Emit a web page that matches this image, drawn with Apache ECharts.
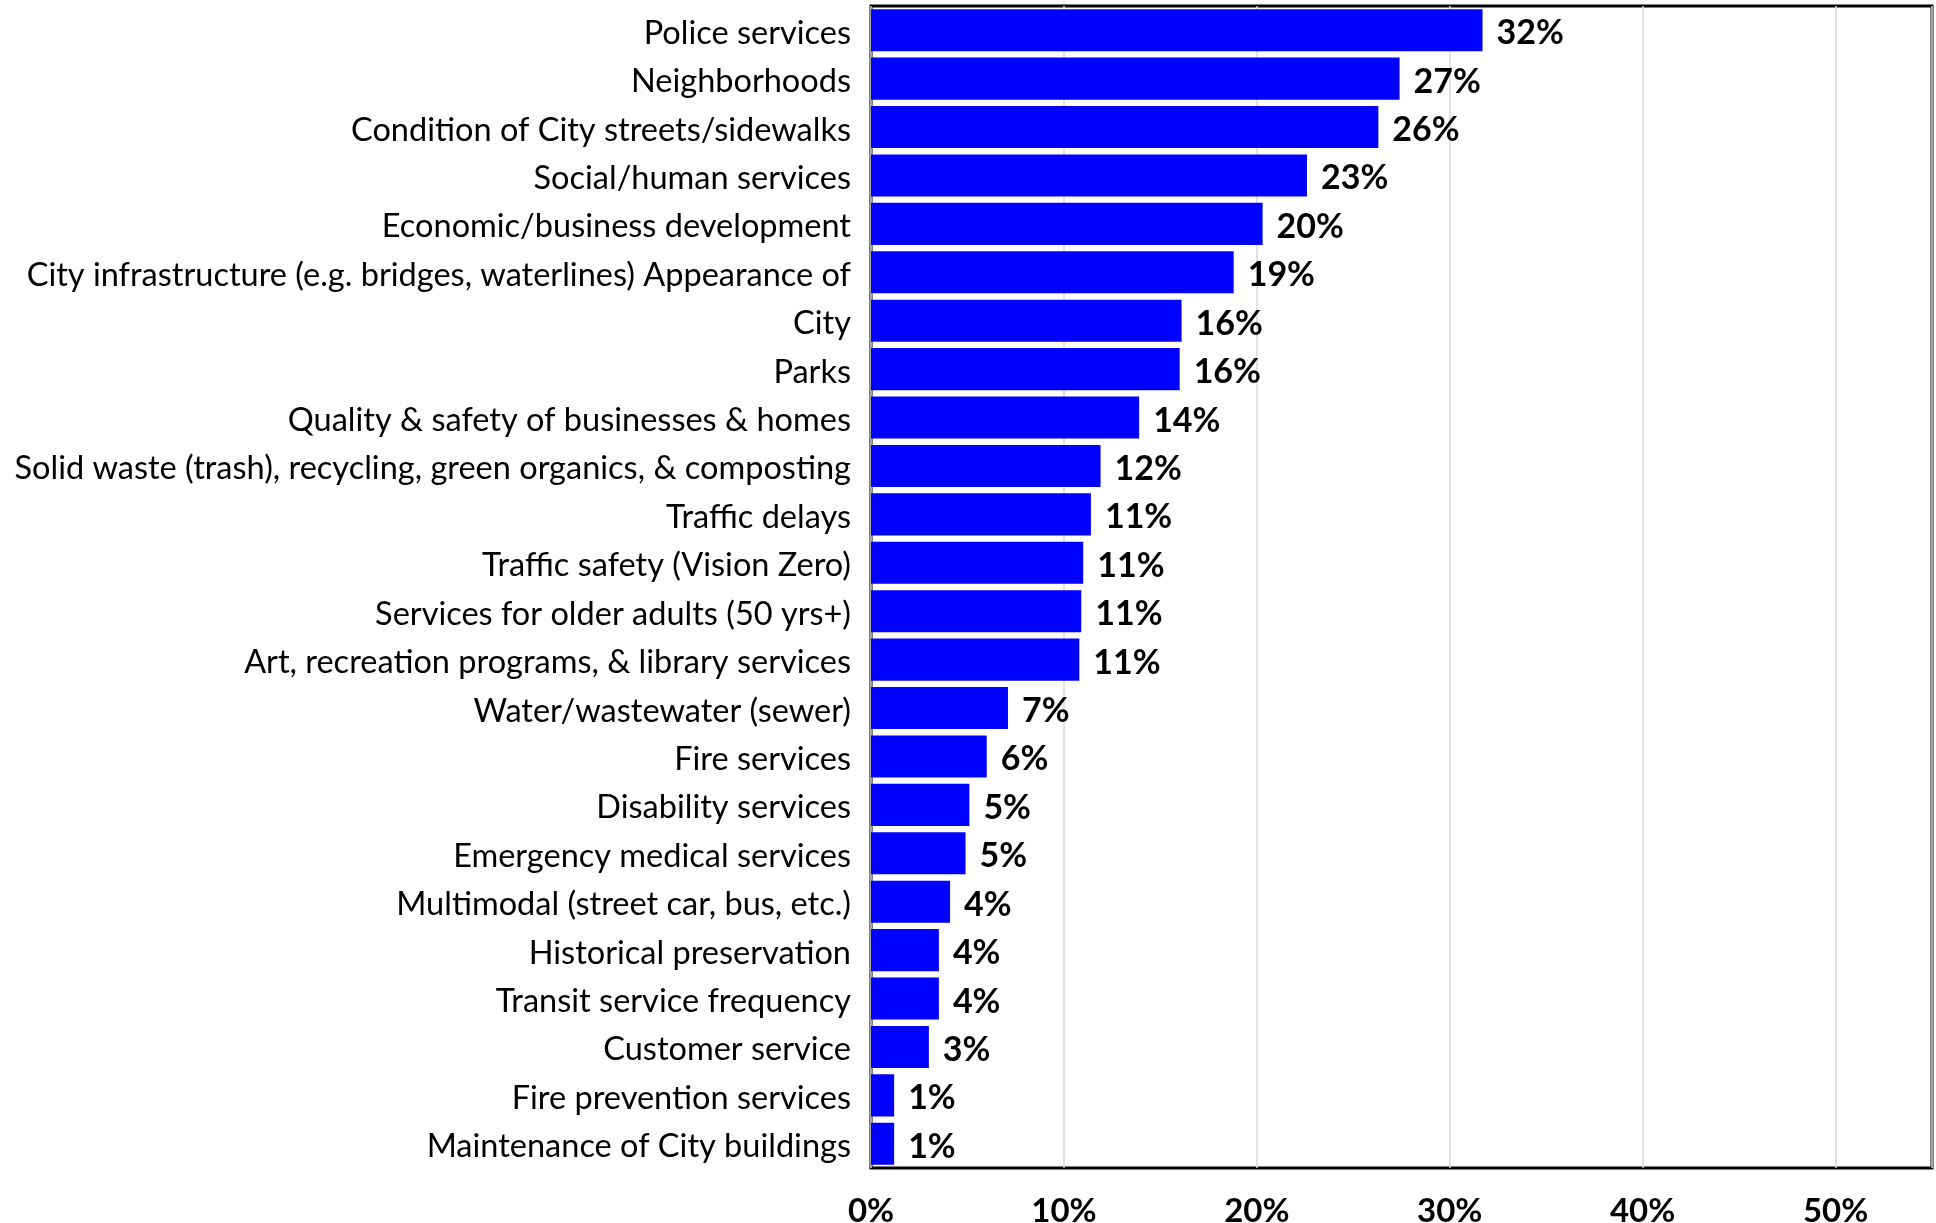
<!DOCTYPE html>
<html>
<head>
<meta charset="utf-8">
<title>City services priorities</title>
<script src="https://cdn.jsdelivr.net/npm/echarts@6/dist/echarts.min.js"></script>
<style>
  html, body { margin: 0; padding: 0; background: #fff; }
  #chart { width: 1936px; height: 1223px; }
</style>
</head>
<body>
<div id="chart"></div>
<script>
// Service areas, listed top to bottom
const categories = [
  'Police services',
  'Neighborhoods',
  'Condition of City streets/sidewalks',
  'Social/human services',
  'Economic/business development',
  'City infrastructure (e.g. bridges, waterlines) Appearance of',
  'City',
  'Parks',
  'Quality & safety of businesses & homes',
  'Solid waste (trash), recycling, green organics, & composting',
  'Traffic delays',
  'Traffic safety (Vision Zero)',
  'Services for older adults (50 yrs+)',
  'Art, recreation programs, & library services',
  'Water/wastewater (sewer)',
  'Fire services',
  'Disability services',
  'Emergency medical services',
  'Multimodal (street car, bus, etc.)',
  'Historical preservation',
  'Transit service frequency',
  'Customer service',
  'Fire prevention services',
  'Maintenance of City buildings'
];

// Share of respondents (%), labels show the rounded value
const shares = [
  31.7, 27.4, 26.3, 22.6, 20.3, 18.8, 16.1, 16.0, 13.9, 11.9, 11.4, 11.0,
  10.9, 10.8, 7.1, 6.0, 5.1, 4.9, 4.1, 3.52, 3.52, 3.0, 1.2, 1.2
];

// Value axis ticks (%)
const axisMin = 0;
const axisMax = 55;
const axisStep = 10;

const FONT = 'Lato, "Open Sans", sans-serif';

const chart = echarts.init(document.getElementById('chart'), null, { renderer: 'canvas' });

chart.setOption({
  animation: false,
  backgroundColor: '#ffffff',
  grid: {
    left: 871,
    right: 4,
    top: 6,
    bottom: 55,
    outerBoundsMode: 'none',
    containLabel: false,
    show: true,
    borderColor: '#000000',
    borderWidth: 3,
    backgroundColor: 'transparent'
  },
  xAxis: {
    type: 'value',
    min: axisMin,
    max: axisMax,
    interval: axisStep,
    axisLine: { show: false },
    axisTick: { show: false },
    splitLine: { show: true, lineStyle: { color: '#d9d9d9', width: 1.5 } },
    axisLabel: {
      margin: 27,
      color: '#000',
      fontFamily: FONT,
      fontWeight: 'bold',
      fontSize: 33,
      showMaxLabel: false,
      formatter: v => v + '%'
    }
  },
  yAxis: {
    type: 'category',
    inverse: true,
    data: categories,
    axisLine: { show: false },
    axisTick: { show: false },
    splitLine: { show: false },
    axisLabel: {
      margin: 20,
      interval: 0,
      formatter: v => '{c|' + v + '}',
      rich: {
        c: {
          color: '#000',
          fontFamily: FONT,
          fontSize: 32.5,
          padding: [6, 0, 0, 0]
        }
      }
    }
  },
  series: [{
    type: 'bar',
    data: shares,
    barCategoryGap: '13%',
    itemStyle: { color: '#0000ff' },
    label: {
      show: true,
      position: 'right',
      distance: 14,
      offset: [0, 3],
      color: '#000',
      fontFamily: FONT,
      fontWeight: 'bold',
      fontSize: 34,
      formatter: p => Math.round(p.value) + '%'
    }
  }]
});
</script>
</body>
</html>
